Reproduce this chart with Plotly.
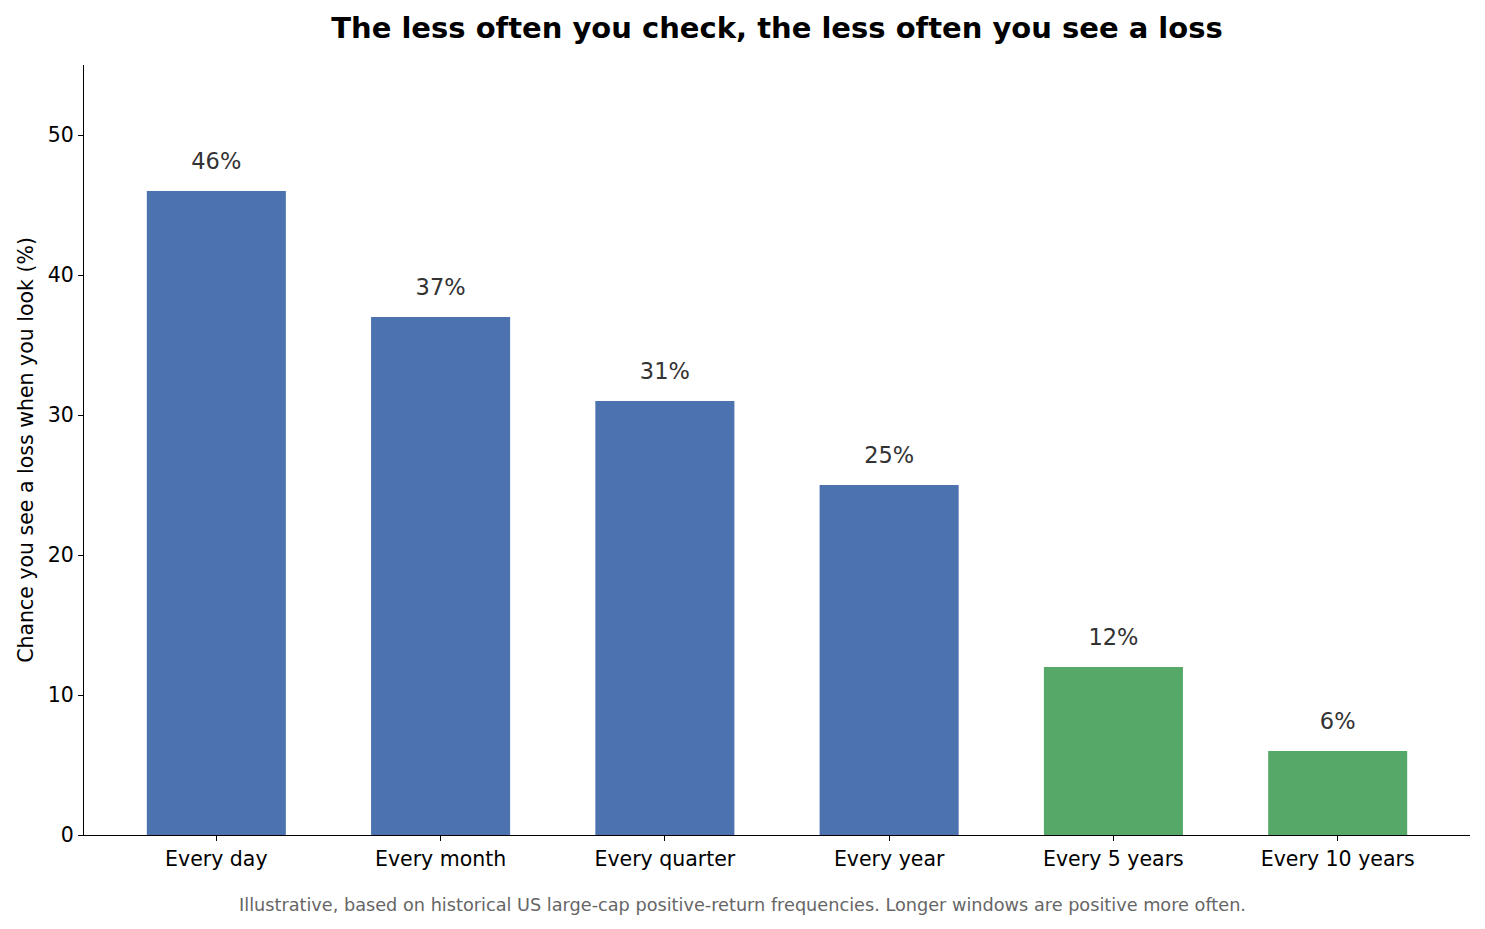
import plotly.graph_objects as go

categories = ['Every day', 'Every month', 'Every quarter', 'Every year', 'Every 5 years', 'Every 10 years']
loss_pct = [46, 37, 31, 25, 12, 6]
bar_colors = ['#4C72B0', '#4C72B0', '#4C72B0', '#4C72B0', '#55A868', '#55A868']
labels = [f'{v}%' for v in loss_pct]

font = 'DejaVu Sans'

fig = go.Figure()
fig.add_trace(go.Bar(x=categories, y=loss_pct, marker_color=bar_colors,
                     marker_line_width=0, width=0.62, showlegend=False,
                     hoverinfo='skip'))
fig.add_trace(go.Scatter(x=categories, y=[v + 2.0 for v in loss_pct], text=labels,
                         mode='text', textposition='middle center',
                         textfont=dict(family=font, size=22.5, color='#333333'),
                         showlegend=False, hoverinfo='skip', cliponaxis=False))

# page has an 8px body margin, so the figure is shrunk by that amount
fig.update_layout(
    width=1477, height=921,
    paper_bgcolor='white', plot_bgcolor='white',
    margin=dict(l=76, r=15, t=57, b=94),
    font=dict(family=font, size=20.5, color='black'),
    title=dict(text='<b>The less often you check, the less often you see a loss</b>',
               x=0.5, xref='paper', y=1 - 20 / 921, yanchor='middle',
               font=dict(family=font, size=29, color='black')),
    xaxis=dict(range=[-0.59, 5.59], showline=True, linecolor='black', linewidth=1.2,
               ticks='outside', ticklen=5, tickcolor='black', showgrid=False,
               tickfont=dict(size=20.5)),
    yaxis=dict(range=[0, 55], showline=True, linecolor='black', linewidth=1.2,
               ticks='outside', ticklen=5, tickcolor='black', showgrid=False,
               zeroline=False, tickvals=[0, 10, 20, 30, 40, 50],
               tickfont=dict(size=20.5),
               title=dict(text='Chance you see a loss when you look (%)',
                          font=dict(size=20.5), standoff=8)),
    annotations=[dict(text='Illustrative, based on historical US large-cap positive-return frequencies. '
                           'Longer windows are positive more often.',
                      xref='paper', yref='paper', x=(742.5 - 84) / 1386, y=0,
                      yshift=-70, xanchor='center', yanchor='middle', showarrow=False,
                      font=dict(family=font, size=17.7, color='#666666'))],
)

fig.write_html('out.html')
